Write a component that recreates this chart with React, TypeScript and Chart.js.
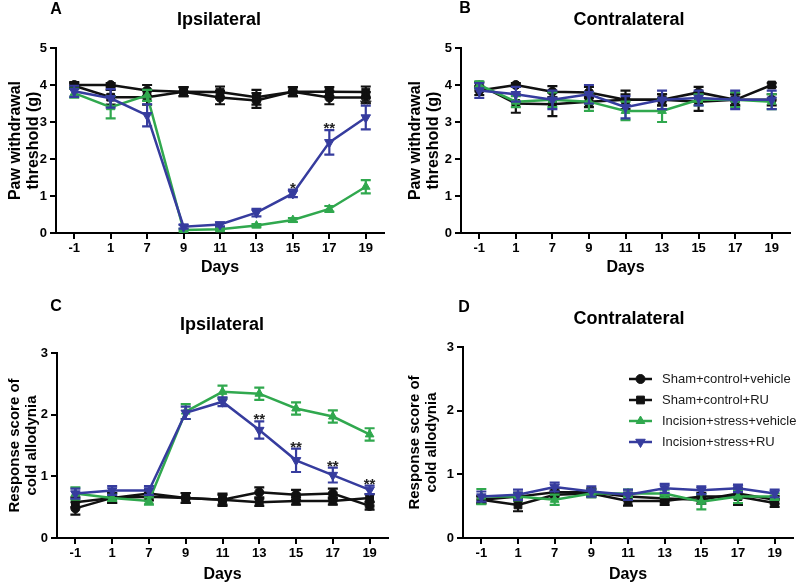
import React, { useEffect, useRef } from 'react';
import { Chart, registerables } from 'chart.js';

Chart.register(...registerables);

// ---------- data ----------
const DAYS = ['-1', '1', '7', '9', '11', '13', '15', '17', '19'];
const SERIES_LABELS = ['Sham+control+vehicle', 'Sham+control+RU', 'Incision+stress+vehicle', 'Incision+stress+RU'];
const PANEL_LETTERS = ['A', 'B', 'C', 'D'];
const PANEL_TITLES = ['Ipsilateral', 'Contralateral', 'Ipsilateral', 'Contralateral'];
const Y_TITLE_PAW = ['Paw withdrawal', 'threshold (g)'];
const Y_TITLE_COLD = ['Response score of', 'cold allodynia'];
const X_TITLE = 'Days';
const PAW_MAX = 5;
const COLD_MAX = 3;

// Panel A — ipsilateral paw withdrawal threshold
const A_SHAM_VEH = [4.0, 4.0, 3.85, 3.82, 3.66, 3.58, 3.82, 3.66, 3.66];
const A_SHAM_VEH_ERR = [0.08, 0.05, 0.15, 0.12, 0.18, 0.2, 0.12, 0.18, 0.15];
const A_SHAM_RU = [3.98, 3.67, 3.67, 3.82, 3.81, 3.67, 3.82, 3.82, 3.81];
const A_SHAM_RU_ERR = [0.08, 0.2, 0.2, 0.12, 0.15, 0.2, 0.12, 0.12, 0.15];
const A_INC_VEH = [3.78, 3.4, 3.72, 0.08, 0.1, 0.2, 0.35, 0.65, 1.25];
const A_INC_VEH_ERR = [0.12, 0.3, 0.15, 0.03, 0.03, 0.04, 0.05, 0.08, 0.18];
const A_INC_RU = [3.83, 3.64, 3.18, 0.17, 0.23, 0.55, 1.07, 2.45, 3.12];
const A_INC_RU_ERR = [0.15, 0.25, 0.3, 0.05, 0.05, 0.1, 0.1, 0.33, 0.32];
const A_SIG = ['', '', '', '', '', '', '*', '**', '**'];

// Panel B — contralateral paw withdrawal threshold
const B_SHAM_VEH = [3.85, 4.0, 3.82, 3.8, 3.6, 3.6, 3.8, 3.6, 3.6];
const B_SHAM_VEH_ERR = [0.12, 0.05, 0.15, 0.15, 0.25, 0.15, 0.15, 0.15, 0.15];
const B_SHAM_RU = [4.0, 3.5, 3.48, 3.55, 3.6, 3.6, 3.55, 3.6, 4.0];
const B_SHAM_RU_ERR = [0.08, 0.25, 0.32, 0.15, 0.15, 0.15, 0.25, 0.15, 0.05];
const B_INC_VEH = [4.0, 3.55, 3.6, 3.55, 3.3, 3.3, 3.6, 3.6, 3.55];
const B_INC_VEH_ERR = [0.1, 0.15, 0.2, 0.25, 0.25, 0.3, 0.15, 0.2, 0.2];
const B_INC_RU = [3.85, 3.75, 3.6, 3.75, 3.4, 3.6, 3.65, 3.6, 3.6];
const B_INC_RU_ERR = [0.2, 0.2, 0.25, 0.25, 0.3, 0.25, 0.2, 0.25, 0.25];
const B_SIG = ['', '', '', '', '', '', '', '', ''];

// Panel C — ipsilateral cold allodynia score
const C_SHAM_VEH = [0.48, 0.65, 0.72, 0.65, 0.62, 0.74, 0.7, 0.72, 0.52];
const C_SHAM_VEH_ERR = [0.1, 0.08, 0.06, 0.08, 0.1, 0.08, 0.08, 0.08, 0.06];
const C_SHAM_RU = [0.58, 0.65, 0.67, 0.65, 0.62, 0.58, 0.6, 0.6, 0.65];
const C_SHAM_RU_ERR = [0.08, 0.08, 0.06, 0.08, 0.08, 0.06, 0.06, 0.06, 0.06];
const C_INC_VEH = [0.72, 0.65, 0.6, 2.05, 2.37, 2.34, 2.1, 1.97, 1.68];
const C_INC_VEH_ERR = [0.1, 0.05, 0.06, 0.12, 0.1, 0.1, 0.1, 0.1, 0.1];
const C_INC_RU = [0.72, 0.77, 0.77, 2.03, 2.21, 1.75, 1.26, 1.02, 0.78];
const C_INC_RU_ERR = [0.08, 0.07, 0.07, 0.1, 0.07, 0.14, 0.19, 0.12, 0.07];
const C_SIG = ['', '', '', '', '', '**', '**', '**', '**'];

// Panel D — contralateral cold allodynia score
const D_SHAM_VEH = [0.6, 0.65, 0.72, 0.72, 0.65, 0.62, 0.6, 0.7, 0.6];
const D_SHAM_VEH_ERR = [0.06, 0.06, 0.06, 0.06, 0.06, 0.06, 0.06, 0.06, 0.06];
const D_SHAM_RU = [0.6, 0.52, 0.68, 0.7, 0.58, 0.58, 0.65, 0.65, 0.55];
const D_SHAM_RU_ERR = [0.05, 0.1, 0.06, 0.06, 0.07, 0.06, 0.06, 0.13, 0.06];
const D_INC_VEH = [0.65, 0.65, 0.6, 0.7, 0.7, 0.7, 0.57, 0.65, 0.65];
const D_INC_VEH_ERR = [0.12, 0.06, 0.08, 0.06, 0.06, 0.06, 0.12, 0.1, 0.05];
const D_INC_RU = [0.65, 0.68, 0.8, 0.73, 0.68, 0.78, 0.75, 0.78, 0.7];
const D_INC_RU_ERR = [0.08, 0.08, 0.07, 0.08, 0.08, 0.07, 0.06, 0.06, 0.06];
const D_SIG = ['', '', '', '', '', '', '', '', ''];

// ---------- styling ----------
const FONT = '"Liberation Sans", Arial, Helvetica, sans-serif';
const BLACK = '#111111';
const GREEN = '#30a84e';
const BLUE = '#363c9e';
const SERIES_STYLE = [
  { color: BLACK, pointStyle: 'circle', radius: 4.5, rotation: 0 },
  { color: BLACK, pointStyle: 'rect', radius: 5.5, rotation: 0 },
  { color: GREEN, pointStyle: 'triangle', radius: 5, rotation: 0 },
  { color: BLUE, pointStyle: 'triangle', radius: 5.5, rotation: 180 },
];

const PANELS = [
  {
    letter: PANEL_LETTERS[0], title: PANEL_TITLES[0], yTitle: Y_TITLE_PAW, yMax: PAW_MAX,
    series: [[A_SHAM_VEH, A_SHAM_VEH_ERR], [A_SHAM_RU, A_SHAM_RU_ERR], [A_INC_VEH, A_INC_VEH_ERR], [A_INC_RU, A_INC_RU_ERR]],
    sig: A_SIG, legend: false,
    box: { x: 0, y: 0, w: 400, h: 290 }, area: { l: 56, t: 48, r: 384, b: 233 },
    letterPos: [56, 10], titlePos: [219, 20], yTitleSize: 16, yTitlePad: 7, xTitlePad: 12.4,
  },
  {
    letter: PANEL_LETTERS[1], title: PANEL_TITLES[1], yTitle: Y_TITLE_PAW, yMax: PAW_MAX,
    series: [[B_SHAM_VEH, B_SHAM_VEH_ERR], [B_SHAM_RU, B_SHAM_RU_ERR], [B_INC_VEH, B_INC_VEH_ERR], [B_INC_RU, B_INC_RU_ERR]],
    sig: B_SIG, legend: false,
    box: { x: 400, y: 0, w: 400, h: 290 }, area: { l: 61, t: 48, r: 390, b: 233 },
    letterPos: [65, 9], titlePos: [229, 20], yTitleSize: 16, yTitlePad: 7, xTitlePad: 12.4,
  },
  {
    letter: PANEL_LETTERS[2], title: PANEL_TITLES[2], yTitle: Y_TITLE_COLD, yMax: COLD_MAX,
    series: [[C_SHAM_VEH, C_SHAM_VEH_ERR], [C_SHAM_RU, C_SHAM_RU_ERR], [C_INC_VEH, C_INC_VEH_ERR], [C_INC_RU, C_INC_RU_ERR]],
    sig: C_SIG, legend: false,
    box: { x: 0, y: 290, w: 400, h: 295 }, area: { l: 57, t: 63, r: 388, b: 248 },
    letterPos: [56, 17], titlePos: [222, 35], yTitleSize: 15, yTitlePad: 6.8, xTitlePad: 0.5,
  },
  {
    letter: PANEL_LETTERS[3], title: PANEL_TITLES[3], yTitle: Y_TITLE_COLD, yMax: COLD_MAX,
    series: [[D_SHAM_VEH, D_SHAM_VEH_ERR], [D_SHAM_RU, D_SHAM_RU_ERR], [D_INC_VEH, D_INC_VEH_ERR], [D_INC_RU, D_INC_RU_ERR]],
    sig: D_SIG, legend: true,
    box: { x: 400, y: 290, w: 400, h: 295 }, area: { l: 63, t: 57, r: 393, b: 248 },
    letterPos: [64, 18], titlePos: [229, 29], yTitleSize: 15, yTitlePad: 6.8, xTitlePad: 0.5,
  },
];

// ---------- plugins ----------
const errorBarPlugin = {
  id: 'errorBars',
  afterDatasetDraw(chart: any, args: any) {
    const ds: any = chart.data.datasets[args.index];
    const errs: number[] | undefined = ds.errorBars;
    if (!errs) return;
    const yScale = chart.scales.y;
    const ctx = chart.ctx;
    ctx.save();
    ctx.strokeStyle = ds.borderColor;
    ctx.lineWidth = 2.2;
    args.meta.data.forEach((pt: any, i: number) => {
      const v = ds.data[i];
      const e = errs[i];
      const top = yScale.getPixelForValue(v + e);
      const bot = yScale.getPixelForValue(Math.max(0, v - e));
      const cap = 5;
      ctx.beginPath();
      ctx.moveTo(pt.x, top);
      ctx.lineTo(pt.x, bot);
      ctx.moveTo(pt.x - cap, top);
      ctx.lineTo(pt.x + cap, top);
      ctx.moveTo(pt.x - cap, bot);
      ctx.lineTo(pt.x + cap, bot);
      ctx.stroke();
    });
    ctx.restore();
  },
};

const sigPlugin = {
  id: 'sigMarks',
  afterDatasetsDraw(chart: any) {
    const ctx = chart.ctx;
    const yScale = chart.scales.y;
    chart.data.datasets.forEach((ds: any, di: number) => {
      if (!ds.sig) return;
      const meta = chart.getDatasetMeta(di);
      ctx.save();
      ctx.fillStyle = '#222';
      ctx.font = `bold 15px ${FONT}`;
      ctx.textAlign = 'center';
      ctx.textBaseline = 'alphabetic';
      ds.sig.forEach((s: string, i: number) => {
        if (!s) return;
        const top = yScale.getPixelForValue(ds.data[i] + ds.errorBars[i]);
        ctx.fillText(s, meta.data[i].x, top + 3);
      });
      ctx.restore();
    });
  },
};

const panelTextPlugin = {
  id: 'panelText',
  afterDraw(chart: any, _args: any, opts: any) {
    const ctx = chart.ctx;
    ctx.save();
    ctx.fillStyle = '#000';
    ctx.textAlign = 'center';
    ctx.textBaseline = 'middle';
    ctx.font = `bold 16px ${FONT}`;
    ctx.fillText(opts.letter, opts.letterPos[0], opts.letterPos[1]);
    ctx.font = `bold 18px ${FONT}`;
    ctx.fillText(opts.title, opts.titlePos[0], opts.titlePos[1]);
    ctx.restore();
  },
};

function drawMarker(ctx: CanvasRenderingContext2D, style: string, x: number, y: number, r: number, rot: number) {
  ctx.beginPath();
  if (style === 'circle') {
    ctx.arc(x, y, r, 0, Math.PI * 2);
  } else if (style === 'rect') {
    const s = r * Math.SQRT1_2;
    ctx.rect(x - s, y - s, 2 * s, 2 * s);
  } else {
    const dir = rot === 180 ? -1 : 1;
    const half = r * 0.866;
    ctx.moveTo(x, y - dir * r);
    ctx.lineTo(x - half, y + dir * r * 0.5);
    ctx.lineTo(x + half, y + dir * r * 0.5);
    ctx.closePath();
  }
  ctx.fill();
  ctx.stroke();
}

const insetLegendPlugin = {
  id: 'insetLegend',
  afterDraw(chart: any, _args: any, opts: any) {
    if (!opts.show) return;
    const ctx = chart.ctx;
    const x0 = opts.x;
    const y0 = opts.y;
    const rowH = opts.rowH;
    chart.data.datasets.forEach((ds: any, i: number) => {
      const y = y0 + i * rowH;
      ctx.save();
      ctx.strokeStyle = ds.borderColor;
      ctx.lineWidth = 2.5;
      ctx.beginPath();
      ctx.moveTo(x0, y);
      ctx.lineTo(x0 + 23, y);
      ctx.stroke();
      ctx.fillStyle = ds.pointBackgroundColor;
      ctx.strokeStyle = ds.borderColor;
      ctx.lineWidth = 1;
      drawMarker(ctx, ds.pointStyle, x0 + 11.5, y, ds.pointRadius, ds.pointRotation);
      ctx.fillStyle = '#1a1a1a';
      ctx.font = `13px ${FONT}`;
      ctx.textAlign = 'left';
      ctx.textBaseline = 'middle';
      ctx.fillText(ds.label, x0 + 33, y);
      ctx.restore();
    });
  },
};

// ---------- component ----------
function Panel({ cfg }: { cfg: any }) {
  const ref = useRef<HTMLCanvasElement | null>(null);

  useEffect(() => {
    if (!ref.current) return;
    const { box, area } = cfg;
    const datasets = cfg.series.map((pair: number[][], i: number) => {
      const st = SERIES_STYLE[i];
      return {
        label: SERIES_LABELS[i],
        data: pair[0],
        errorBars: pair[1],
        sig: i === 3 && cfg.sig.some((s: string) => s) ? cfg.sig : undefined,
        borderColor: st.color,
        backgroundColor: st.color,
        pointBackgroundColor: st.color,
        pointBorderColor: st.color,
        pointStyle: st.pointStyle,
        pointRadius: st.radius,
        pointRotation: st.rotation,
        pointBorderWidth: 1,
        borderWidth: 2.5,
        tension: 0,
        fill: false,
        order: 4 - i,
      };
    });

    const chart = new Chart(ref.current, {
      type: 'line',
      data: { labels: DAYS, datasets },
      options: {
        animation: false,
        responsive: false,
        devicePixelRatio: 1,
        layout: { padding: { left: 0, top: area.t, right: box.w - area.r, bottom: 0 } },
        plugins: {
          legend: { display: false },
          tooltip: { enabled: false },
          panelText: { letter: cfg.letter, title: cfg.title, letterPos: cfg.letterPos, titlePos: cfg.titlePos },
          insetLegend: { show: cfg.legend, x: 229, y: 89, rowH: 21 },
        } as any,
        scales: {
          x: {
            type: 'category',
            offset: true,
            grid: { display: true, drawOnChartArea: false, drawTicks: true, tickLength: 6, lineWidth: 2, color: '#000', offset: false },
            border: { display: true, width: 2, color: '#000' },
            ticks: { color: '#000', font: { family: FONT, size: 13, weight: 'bold' }, padding: 2, maxRotation: 0, autoSkip: false },
            title: { display: true, text: X_TITLE, color: '#000', font: { family: FONT, size: 16, weight: 'bold', lineHeight: 1.2 }, padding: { top: 0, bottom: cfg.xTitlePad } },
            afterFit: (s: any) => { s.height = box.h - area.b; },
          },
          y: {
            type: 'linear',
            min: 0,
            max: cfg.yMax,
            grid: { display: true, drawOnChartArea: false, drawTicks: true, tickLength: 6, lineWidth: 2, color: '#000' },
            border: { display: true, width: 2, color: '#000' },
            ticks: { stepSize: 1, color: '#000', font: { family: FONT, size: 13, weight: 'bold' }, padding: 3 },
            title: { display: true, text: cfg.yTitle, color: '#000', font: { family: FONT, size: cfg.yTitleSize, weight: 'bold', lineHeight: 1.1 }, padding: { top: cfg.yTitlePad, bottom: 0 } },
            afterFit: (s: any) => { s.width = area.l; },
          },
        },
      } as any,
      plugins: [errorBarPlugin, sigPlugin, panelTextPlugin, insetLegendPlugin] as any,
    });
    return () => chart.destroy();
  }, [cfg]);

  const { box } = cfg;
  return (
    <div style={{ position: 'absolute', left: box.x, top: box.y, width: box.w, height: box.h }}>
      <canvas ref={ref} width={box.w} height={box.h} style={{ width: box.w, height: box.h, display: 'block' }} />
    </div>
  );
}

export default function App() {
  return (
    <div style={{ position: 'absolute', left: 0, top: 0, width: 800, height: 585, background: '#fff', overflow: 'hidden' }}>
      {PANELS.map((p) => (
        <Panel key={p.letter} cfg={p} />
      ))}
    </div>
  );
}
